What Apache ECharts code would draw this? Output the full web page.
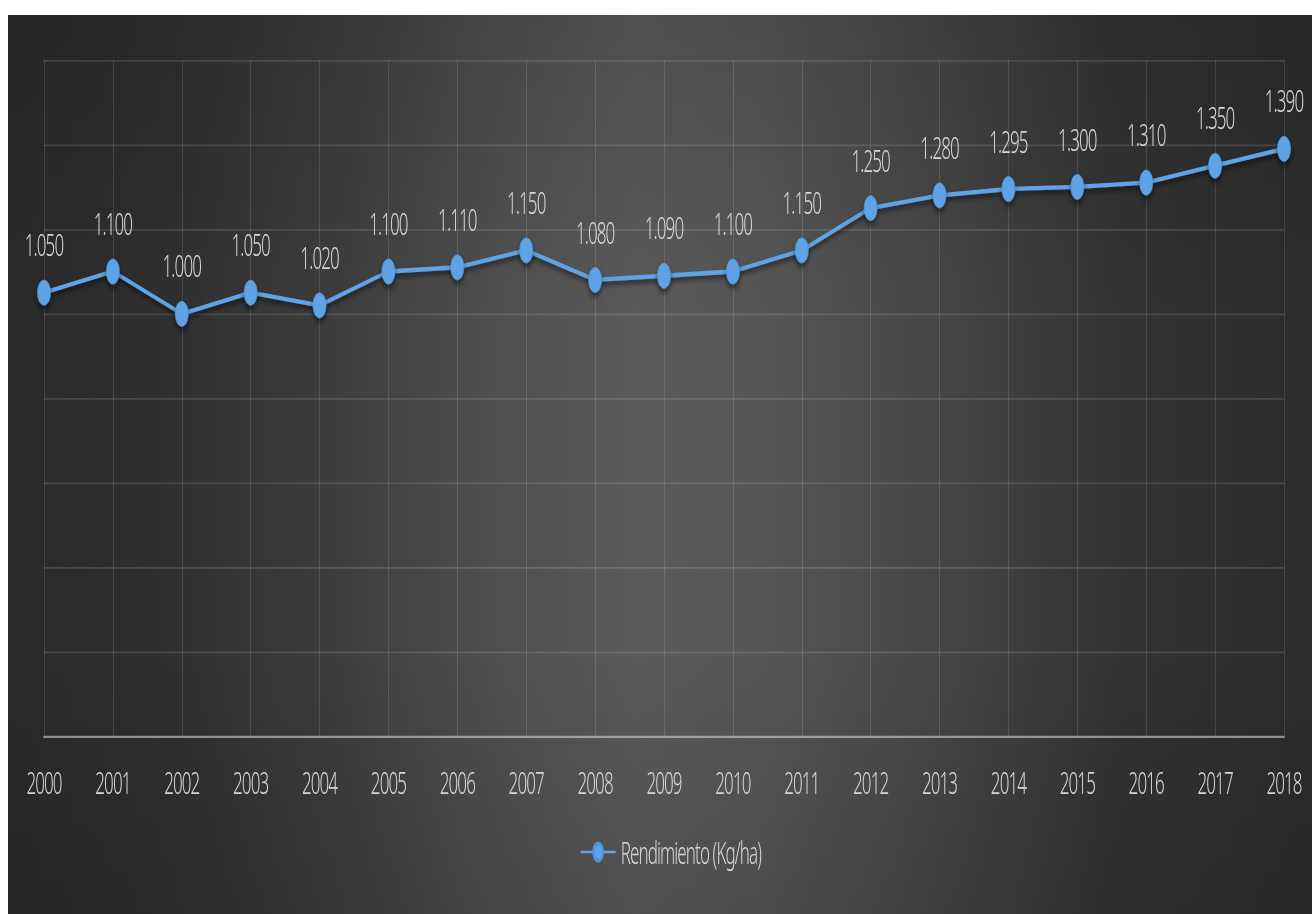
<!DOCTYPE html>
<html>
<head>
<meta charset="utf-8">
<title>Rendimiento (Kg/ha)</title>
<script src="https://cdn.jsdelivr.net/npm/echarts@6/dist/echarts.min.js"></script>
<style>
  html, body { margin: 0; padding: 0; background: #ffffff; width: 1312px; height: 914px; overflow: hidden; }
  /* The chart is laid out at a short height and stretched tall, which gives
     the tall condensed lettering and oval markers of the figure. */
  #chart {
    position: absolute; left: 8px; top: 15px;
    width: 1304px; height: 500px;
    transform: scaleY(1.798); transform-origin: 0 0;
  }
  /* light, narrow face for every label */
  #chart svg text {
    font-family: 'Noto Sans', 'DejaVu Sans Condensed', sans-serif !important;
    font-stretch: condensed !important;
    font-weight: 300 !important;
    letter-spacing: -0.9px;
  }
</style>
</head>
<body>
<div id="chart"></div>
<script>
// Years on the horizontal axis
const years = ['2000','2001','2002','2003','2004','2005','2006','2007','2008','2009',
               '2010','2011','2012','2013','2014','2015','2016','2017','2018'];
// Yield per year, kg/ha
const rendimiento = [1050, 1100, 1000, 1050, 1020, 1100, 1110, 1150, 1080, 1090,
                     1100, 1150, 1250, 1280, 1295, 1300, 1310, 1350, 1390];
const seriesName = 'Rendimiento (Kg/ha)';
// Value axis range (labels hidden, gridlines only)
const yMin = 0, yMax = 1600, yStep = 200;

const FONT = "'Noto Sans', 'DejaVu Sans Condensed', sans-serif";
const TEXT = '#d6d6d6';
const BLUE = '#5ea3e6';

// Spanish thousands separator: 1050 -> "1.050"
function fmt(v) {
  return String(v).replace(/\B(?=(\d{3})+(?!\d))/g, '.');
}

const chart = echarts.init(document.getElementById('chart'), null, { renderer: 'svg' });
chart.setOption({
  animation: false,
  // dark sides, lighter middle
  backgroundColor: {
    type: 'linear', x: 0, y: 0, x2: 1, y2: 0,
    colorStops: [
      { offset: 0, color: '#2a2a2a' },
      { offset: 0.12, color: '#2f2f2f' },
      { offset: 0.25, color: '#3d3d3d' },
      { offset: 0.38, color: '#505050' },
      { offset: 0.48, color: '#5a5a5a' },
      { offset: 0.58, color: '#565656' },
      { offset: 0.72, color: '#454545' },
      { offset: 0.85, color: '#333333' },
      { offset: 1, color: '#2c2c2c' }
    ]
  },
  // slight shading towards the top and bottom edges
  graphic: [{
    type: 'rect',
    left: 0, top: 0, z: -100, silent: true,
    shape: { width: 1304, height: 500 },
    style: {
      fill: {
        type: 'linear', x: 0, y: 0, x2: 0, y2: 1,
        colorStops: [
          { offset: 0, color: 'rgba(0,0,0,0.12)' },
          { offset: 0.35, color: 'rgba(0,0,0,0)' },
          { offset: 0.7, color: 'rgba(0,0,0,0)' },
          { offset: 1, color: 'rgba(0,0,0,0.12)' }
        ]
      }
    }
  }],
  textStyle: { fontFamily: FONT },
  grid: { left: 36, right: 28, top: 25, bottom: 98.5 },
  xAxis: {
    type: 'category',
    data: years,
    boundaryGap: false,
    axisLine: { lineStyle: { color: 'rgba(217,217,217,0.5)', width: 1.3 } },
    axisTick: { show: false },
    axisLabel: { color: TEXT, fontSize: 17, fontFamily: FONT, margin: 17 },
    splitLine: { show: true, lineStyle: { color: 'rgba(255,255,255,0.12)', width: 1 } }
  },
  yAxis: {
    type: 'value',
    min: yMin, max: yMax, interval: yStep,
    axisLine: { show: false },
    axisTick: { show: false },
    axisLabel: { show: false },
    splitLine: { show: true, lineStyle: { color: 'rgba(255,255,255,0.13)', width: 1 } }
  },
  legend: {
    data: [seriesName],
    left: 572,
    top: 457,
    padding: 0,
    itemWidth: 35,
    itemHeight: 12,
    itemGap: 4,
    lineStyle: { width: 1.3 },
    textStyle: { color: TEXT, fontSize: 17, fontFamily: FONT }
  },
  series: [{
    name: seriesName,
    type: 'line',
    data: rendimiento,
    symbol: 'circle',
    symbolSize: [13, 14],
    lineStyle: {
      color: BLUE, width: 2.4,
      shadowColor: 'rgba(0,0,0,0.55)', shadowBlur: 3, shadowOffsetY: 2
    },
    itemStyle: {
      color: BLUE, borderColor: '#4f95d8', borderWidth: 0.5,
      shadowColor: 'rgba(0,0,0,0.6)', shadowBlur: 4, shadowOffsetY: 2
    },
    label: {
      show: true,
      position: 'top',
      distance: 11,
      color: TEXT,
      fontSize: 17,
      fontFamily: FONT,
      formatter: p => fmt(p.value)
    }
  }]
});
</script>
</body>
</html>
